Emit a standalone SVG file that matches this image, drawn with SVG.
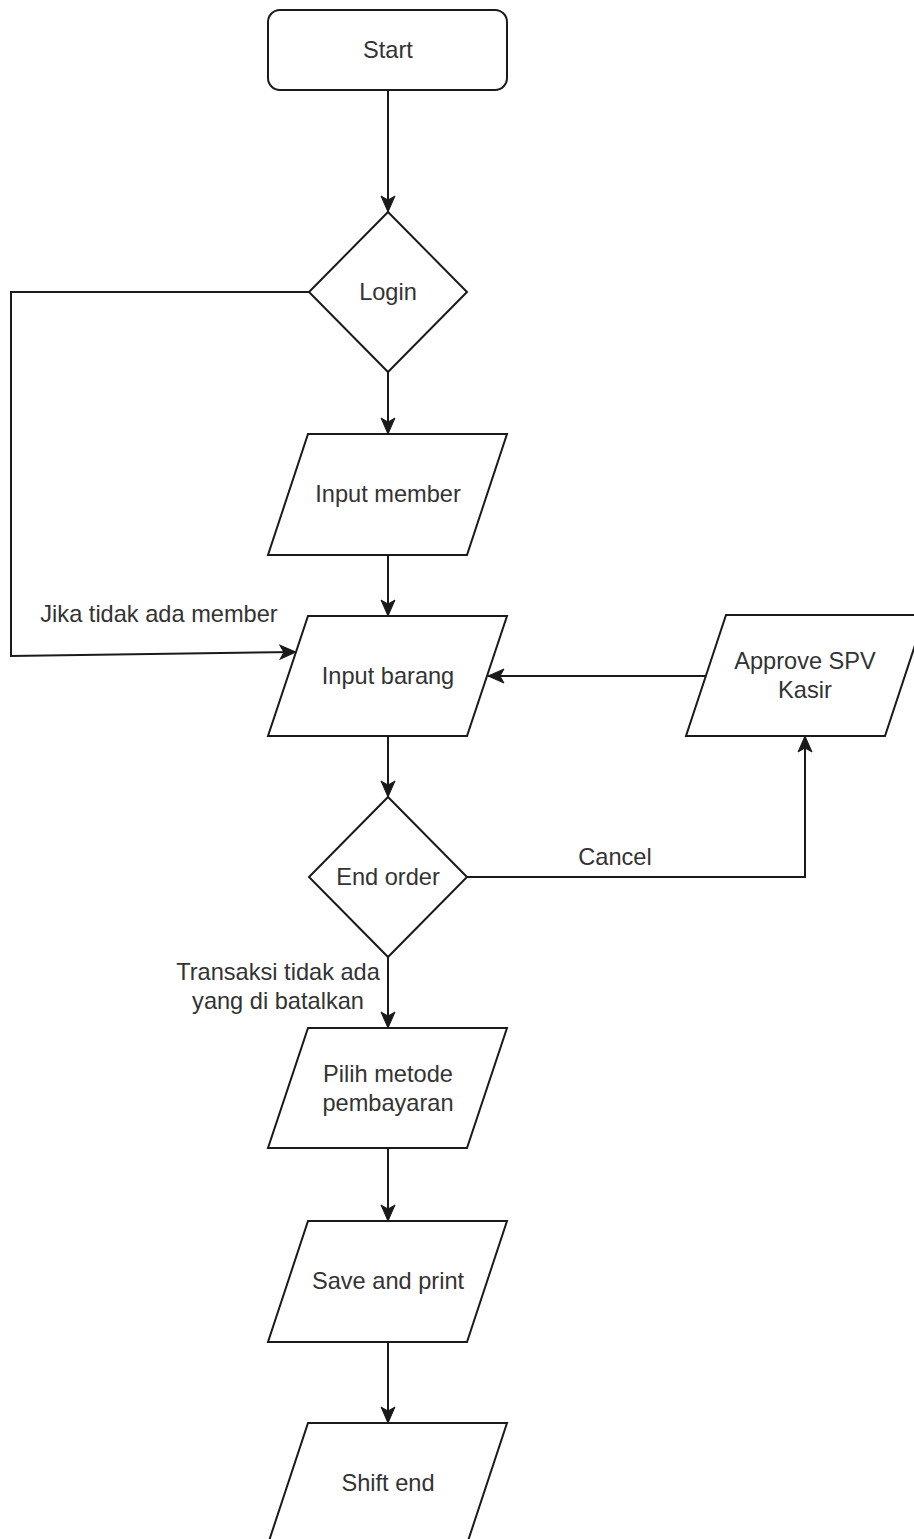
<svg xmlns="http://www.w3.org/2000/svg" width="914" height="1539" viewBox="0 0 914 1539">
<style>
.shape{fill:#ffffff;stroke:#1a1a1a;stroke-width:2}
.edge{fill:none;stroke:#1a1a1a;stroke-width:2}
text{font-family:"Liberation Sans",Arial,sans-serif;font-size:23.6px;fill:#333333;text-anchor:middle}
</style>
<defs>
<marker id="arr" markerUnits="userSpaceOnUse" markerWidth="18" markerHeight="16" viewBox="0 0 18 16" refX="17" refY="8" orient="auto">
<path d="M1,1 L17,8 L1,15 L5,8 Z" fill="#1a1a1a" stroke="#1a1a1a" stroke-width="1"/>
</marker>
</defs>
<rect width="914" height="1539" fill="#ffffff"/>
<g id="connectors">
<path class="edge" d="M388,90 L388,212" marker-end="url(#arr)"/>
<path class="edge" d="M388,372 L388,434" marker-end="url(#arr)"/>
<path class="edge" d="M309,292 L11,292 L11,656 L296,652" marker-end="url(#arr)"/>
<path class="edge" d="M388,555 L388,616" marker-end="url(#arr)"/>
<path class="edge" d="M706,676 L488,676" marker-end="url(#arr)"/>
<path class="edge" d="M388,736 L388,797" marker-end="url(#arr)"/>
<path class="edge" d="M467,877 L805,877 L805,736" marker-end="url(#arr)"/>
<path class="edge" d="M388,957 L388,1028" marker-end="url(#arr)"/>
<path class="edge" d="M388,1148 L388,1221" marker-end="url(#arr)"/>
<path class="edge" d="M388,1342 L388,1423" marker-end="url(#arr)"/>
<text x="159" y="622">Jika tidak ada member</text>
<text x="615" y="865">Cancel</text>
<text x="278" y="980">Transaksi tidak ada</text>
<text x="278" y="1009">yang di batalkan</text>
</g>
<g id="start">
<rect class="shape" x="268" y="10" width="239" height="80" rx="12" ry="12"/>
<text x="388" y="58">Start</text>
</g>
<g id="login">
<polygon class="shape" points="388,212 467,292 388,372 309,292"/>
<text x="388" y="300">Login</text>
</g>
<g id="input-member">
<polygon class="shape" points="308,434 507,434 467,555 268,555"/>
<text x="388" y="502">Input member</text>
</g>
<g id="input-barang">
<polygon class="shape" points="308,616 507,616 467,736 268,736"/>
<text x="388" y="684">Input barang</text>
</g>
<g id="approve-spv">
<polygon class="shape" points="726,615 925,615 885,736 686,736"/>
<text x="805" y="669">Approve SPV</text>
<text x="805" y="698">Kasir</text>
</g>
<g id="end-order">
<polygon class="shape" points="388,797 467,877 388,957 309,877"/>
<text x="388" y="885">End order</text>
</g>
<g id="pilih-metode">
<polygon class="shape" points="308,1028 507,1028 467,1148 268,1148"/>
<text x="388" y="1082">Pilih metode</text>
<text x="388" y="1111">pembayaran</text>
</g>
<g id="save-print">
<polygon class="shape" points="308,1221 507,1221 467,1342 268,1342"/>
<text x="388" y="1289">Save and print</text>
</g>
<g id="shift-end">
<polygon class="shape" points="308,1423 507,1423 467,1544 268,1544"/>
<text x="388" y="1491">Shift end</text>
</g>
</svg>
